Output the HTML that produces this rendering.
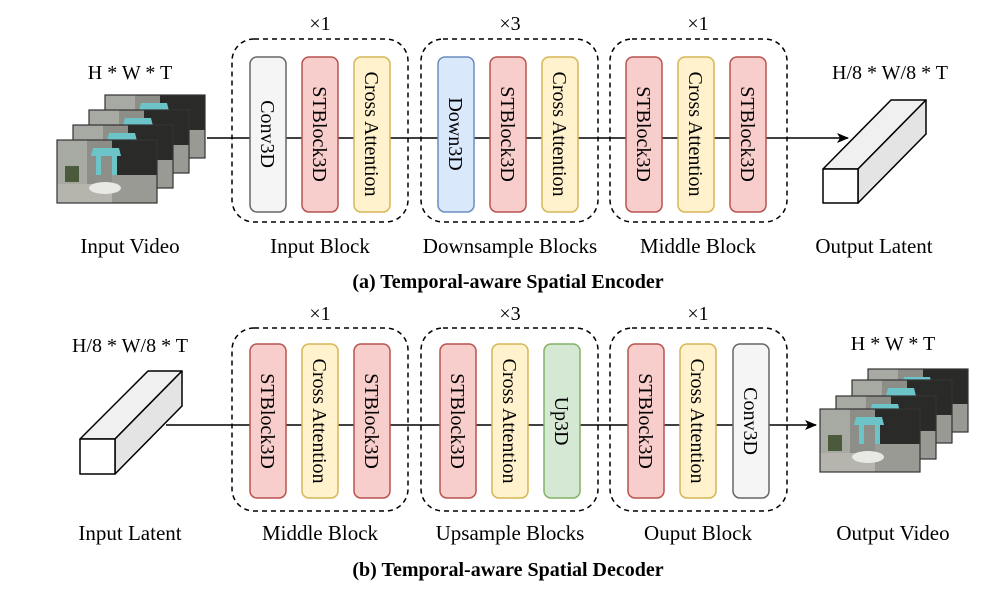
<!DOCTYPE html>
<html><head><meta charset="utf-8"><style>
html,body{margin:0;padding:0;background:#fff;}
svg{display:block;}
text{font-family:"Liberation Serif",serif;fill:#000;}
</style></head><body>
<svg width="996" height="589" viewBox="0 0 996 589" xmlns="http://www.w3.org/2000/svg">
<defs>
<marker id="ar" markerWidth="12" markerHeight="10" refX="11" refY="5" orient="auto" markerUnits="userSpaceOnUse">
<path d="M0,0 L12,5 L0,10 L3,5 Z" fill="#000"/>
</marker>
<g id="frame">
<rect x="0" y="0" width="100" height="63" fill="#8d8e88"/>
<rect x="55" y="0" width="45" height="35" fill="#2a2a28"/>
<rect x="0" y="0" width="30" height="63" fill="#a7a9a3"/>
<rect x="0" y="44" width="100" height="19" fill="#b5b5ae"/>
<rect x="55" y="35" width="45" height="28" fill="#9a9a94"/>
<path d="M36,8 L62,8 L64,16 L60,16 L60,35 L55,35 L55,16 L44,16 L44,35 L39,35 L39,16 L34,16 Z" fill="#6cc4c8"/>
<rect x="8" y="26" width="14" height="16" fill="#4a5a3a"/>
<ellipse cx="48" cy="48" rx="16" ry="6" fill="#e8e8e4"/>
<rect x="0" y="0" width="100" height="63" fill="none" stroke="#333" stroke-width="1.2"/>
</g>
</defs>

<!-- ENCODER -->
<text x="130" y="79" font-size="20" text-anchor="middle">H * W * T</text>
<use href="#frame" x="105" y="95"/>
<use href="#frame" x="89" y="110"/>
<use href="#frame" x="73" y="125"/>
<use href="#frame" x="57" y="140"/>
<text x="130" y="253" font-size="21" text-anchor="middle">Input Video</text>

<line x1="207" y1="138" x2="848" y2="138" stroke="#000" stroke-width="1.6" marker-end="url(#ar)"/>

<g fill="none" stroke="#000" stroke-width="1.5" stroke-dasharray="5,4">
<rect x="232" y="39" width="176" height="183" rx="22"/>
<rect x="421" y="39" width="177" height="183" rx="22"/>
<rect x="610" y="39" width="177" height="183" rx="22"/>
</g>
<text x="320" y="30" font-size="20" text-anchor="middle">×1</text>
<text x="510" y="30" font-size="20" text-anchor="middle">×3</text>
<text x="698" y="30" font-size="20" text-anchor="middle">×1</text>

<g stroke-width="1.5">
<rect x="250" y="57" width="36" height="155" rx="7" fill="#f5f5f5" stroke="#666"/>
<rect x="302" y="57" width="36" height="155" rx="7" fill="#f8cecc" stroke="#b85450"/>
<rect x="354" y="57" width="36" height="155" rx="7" fill="#fff2cc" stroke="#d6b656"/>
<rect x="438" y="57" width="36" height="155" rx="7" fill="#dae8fc" stroke="#6c8ebf"/>
<rect x="490" y="57" width="36" height="155" rx="7" fill="#f8cecc" stroke="#b85450"/>
<rect x="542" y="57" width="36" height="155" rx="7" fill="#fff2cc" stroke="#d6b656"/>
<rect x="626" y="57" width="36" height="155" rx="7" fill="#f8cecc" stroke="#b85450"/>
<rect x="678" y="57" width="36" height="155" rx="7" fill="#fff2cc" stroke="#d6b656"/>
<rect x="730" y="57" width="36" height="155" rx="7" fill="#f8cecc" stroke="#b85450"/>
</g>
<g font-size="20" text-anchor="middle">
<text transform="translate(261,134) rotate(90)">Conv3D</text>
<text transform="translate(313,134) rotate(90)">STBlock3D</text>
<text transform="translate(365,134) rotate(90)">Cross Attention</text>
<text transform="translate(449,134) rotate(90)">Down3D</text>
<text transform="translate(501,134) rotate(90)">STBlock3D</text>
<text transform="translate(553,134) rotate(90)">Cross Attention</text>
<text transform="translate(637,134) rotate(90)">STBlock3D</text>
<text transform="translate(689,134) rotate(90)">Cross Attention</text>
<text transform="translate(741,134) rotate(90)">STBlock3D</text>
</g>
<text x="320" y="253" font-size="21" text-anchor="middle">Input Block</text>
<text x="510" y="253" font-size="21" text-anchor="middle">Downsample Blocks</text>
<text x="698" y="253" font-size="21" text-anchor="middle">Middle Block</text>

<!-- output latent -->
<g stroke="#000" stroke-width="1.5" stroke-linejoin="round">
<polygon points="823,169 891,100 926,100 858,169" fill="#f0f0f0"/>
<polygon points="858,169 926,100 926,134 858,203" fill="#e4e4e4"/>
<rect x="823" y="169" width="35" height="34" fill="#fff"/>
</g>
<text x="890" y="79" font-size="20" text-anchor="middle">H/8 * W/8 * T</text>
<text x="874" y="253" font-size="21" text-anchor="middle">Output Latent</text>

<text x="508" y="288" font-size="20" font-weight="bold" text-anchor="middle">(a) Temporal-aware Spatial Encoder</text>

<!-- DECODER -->
<text x="130" y="352" font-size="20" text-anchor="middle">H/8 * W/8 * T</text>
<g stroke="#000" stroke-width="1.5" stroke-linejoin="round">
<polygon points="80,439 148,371 182,371 115,439" fill="#f0f0f0"/>
<polygon points="115,439 182,371 182,406 115,474" fill="#e4e4e4"/>
<rect x="80" y="439" width="35" height="35" fill="#fff"/>
</g>
<text x="130" y="540" font-size="21" text-anchor="middle">Input Latent</text>

<line x1="166" y1="425" x2="816" y2="425" stroke="#000" stroke-width="1.6" marker-end="url(#ar)"/>

<g fill="none" stroke="#000" stroke-width="1.5" stroke-dasharray="5,4">
<rect x="232" y="328" width="176" height="183" rx="22"/>
<rect x="421" y="328" width="177" height="183" rx="22"/>
<rect x="610" y="328" width="177" height="183" rx="22"/>
</g>
<text x="320" y="320" font-size="20" text-anchor="middle">×1</text>
<text x="510" y="320" font-size="20" text-anchor="middle">×3</text>
<text x="698" y="320" font-size="20" text-anchor="middle">×1</text>

<g stroke-width="1.5">
<rect x="250" y="344" width="36" height="154" rx="7" fill="#f8cecc" stroke="#b85450"/>
<rect x="302" y="344" width="36" height="154" rx="7" fill="#fff2cc" stroke="#d6b656"/>
<rect x="354" y="344" width="36" height="154" rx="7" fill="#f8cecc" stroke="#b85450"/>
<rect x="440" y="344" width="36" height="154" rx="7" fill="#f8cecc" stroke="#b85450"/>
<rect x="492" y="344" width="36" height="154" rx="7" fill="#fff2cc" stroke="#d6b656"/>
<rect x="544" y="344" width="36" height="154" rx="7" fill="#d5e8d4" stroke="#82b366"/>
<rect x="628" y="344" width="36" height="154" rx="7" fill="#f8cecc" stroke="#b85450"/>
<rect x="680" y="344" width="36" height="154" rx="7" fill="#fff2cc" stroke="#d6b656"/>
<rect x="733" y="344" width="36" height="154" rx="7" fill="#f5f5f5" stroke="#666"/>
</g>
<g font-size="20" text-anchor="middle">
<text transform="translate(261,421) rotate(90)">STBlock3D</text>
<text transform="translate(313,421) rotate(90)">Cross Attention</text>
<text transform="translate(365,421) rotate(90)">STBlock3D</text>
<text transform="translate(451,421) rotate(90)">STBlock3D</text>
<text transform="translate(503,421) rotate(90)">Cross Attention</text>
<text transform="translate(555,421) rotate(90)">Up3D</text>
<text transform="translate(639,421) rotate(90)">STBlock3D</text>
<text transform="translate(691,421) rotate(90)">Cross Attention</text>
<text transform="translate(744,421) rotate(90)">Conv3D</text>
</g>
<text x="320" y="540" font-size="21" text-anchor="middle">Middle Block</text>
<text x="510" y="540" font-size="21" text-anchor="middle">Upsample Blocks</text>
<text x="698" y="540" font-size="21" text-anchor="middle">Ouput Block</text>

<text x="893" y="350" font-size="20" text-anchor="middle">H * W * T</text>
<use href="#frame" x="868" y="369"/>
<use href="#frame" x="852" y="380"/>
<use href="#frame" x="836" y="396"/>
<use href="#frame" x="820" y="409"/>
<text x="893" y="540" font-size="21" text-anchor="middle">Output Video</text>

<text x="508" y="576" font-size="20" font-weight="bold" text-anchor="middle">(b) Temporal-aware Spatial Decoder</text>
</svg>
</body></html>
